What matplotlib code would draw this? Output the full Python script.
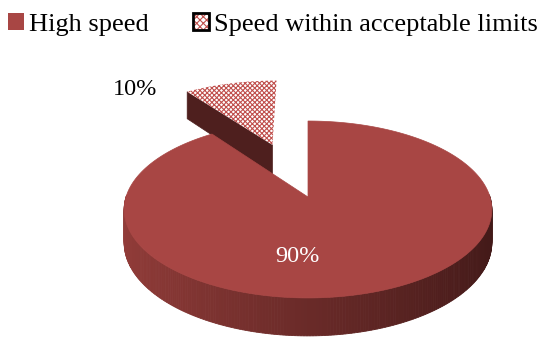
import numpy as np
import matplotlib.pyplot as plt
from matplotlib.patches import Polygon, Patch
from matplotlib.legend_handler import HandlerTuple

# Data
labels = ['High speed', 'Speed within acceptable limits']
values = [90, 10]
explode = [0.0, 0.69]

# label placement (angle in degrees, radius) relative to each slice tip
label_pos = [(-95, 0.63), (138, 1.26)]
label_colors = ['white', 'black']

top_colors = ['#A84644', 'white']
hatches = [None, 'xxxxxxx']
hatch_col = '#C0504D'
face_dark = '#4E1F1E'

plt.rcParams['font.family'] = ['Liberation Serif', 'DejaVu Serif']
plt.rcParams['hatch.linewidth'] = 0.8

fig = plt.figure(figsize=(5.5, 3.38), dpi=100)
ax = fig.add_axes([0, 0, 1, 1])
ax.set_xlim(0, 550)
ax.set_ylim(338, 0)
ax.axis('off')

# projection of the pie disc (u, v in radius units, h height: 0 top, -1 bottom)
cx, cy = 308, 197
R, A, H, persp = 182, 86.7, 32.6, 0.141


def proj(u, v, h=0.0):
    u = np.asarray(u, float)
    v = np.asarray(v, float)
    k = 1.0 / (1.0 + persp * v)
    return cx + R * u * k, cy - (A * v + H * h) * k


def wall_color(c):
    # c = cos(angle), left lighter, right darker
    left = np.array([146, 60, 57]) / 255
    right = np.array([66, 25, 24]) / 255
    f = (c + 1) / 2
    return left * (1 - f) + right * f


total = float(sum(values))
starts = []
a = 90.0
for val in values:
    starts.append((a, a - val / total * 360))
    a -= val / total * 360

# draw slices further back first
order = []
for i, (a0, a1) in enumerate(starts):
    mid = np.radians((a0 + a1) / 2)
    order.append((explode[i] * np.sin(mid), i))
order.sort(reverse=True)

for _, i in order:
    a0, a1 = starts[i]
    mid = np.radians((a0 + a1) / 2)
    du, dv = explode[i] * np.cos(mid), explode[i] * np.sin(mid)

    # radial cut faces that face the viewer
    for ang, nrm in ((a0, a0 + 90), (a1, a1 - 90)):
        if np.sin(np.radians(nrm)) < -0.05:
            t = np.radians(ang)
            pts = [proj(du, dv, 0), proj(du + np.cos(t), dv + np.sin(t), 0),
                   proj(du + np.cos(t), dv + np.sin(t), -1), proj(du, dv, -1)]
            ax.add_patch(Polygon(pts, closed=True, facecolor=face_dark,
                                 edgecolor=face_dark, lw=0.5))

    # outer wall, front part only, drawn in thin strips for shading
    ts = np.linspace(np.radians(a0), np.radians(a1), 400)
    for j in range(len(ts) - 1):
        tm = (ts[j] + ts[j + 1]) / 2
        if np.sin(tm) >= 0.02:
            continue
        t2 = ts[j:j + 2]
        xt, yt = proj(du + np.cos(t2), dv + np.sin(t2), 0)
        xb, yb = proj(du + np.cos(t2), dv + np.sin(t2), -1)
        pts = list(zip(xt, yt)) + list(zip(xb[::-1], yb[::-1]))
        col = wall_color(np.cos(tm))
        ax.add_patch(Polygon(pts, closed=True, facecolor=col, edgecolor=col, lw=0.6))

    # top face
    xs, ys = proj(du + np.cos(ts), dv + np.sin(ts), 0)
    tip = proj(du, dv, 0)
    pts = [tip] + list(zip(xs, ys))
    if hatches[i]:
        ax.add_patch(Polygon(pts, closed=True, facecolor='white',
                             edgecolor=hatch_col, hatch=hatches[i], lw=0))
    else:
        ax.add_patch(Polygon(pts, closed=True, facecolor=top_colors[i],
                             edgecolor=top_colors[i], lw=0.5))

    # percentage label
    la, lr = label_pos[i]
    lx, ly = proj(du + lr * np.cos(np.radians(la)), dv + lr * np.sin(np.radians(la)), 0)
    ax.text(lx, ly, '%d%%' % round(values[i] / total * 100), color=label_colors[i],
            fontsize=17.5, ha='center', va='center')

# legend
h1 = Patch(facecolor=top_colors[0], edgecolor='none')
h2a = Patch(facecolor='white', edgecolor=hatch_col, hatch='xxxxx', lw=0)
h2b = Patch(facecolor='none', edgecolor='black', lw=2)
fig.legend([h1, (h2a, h2b)], labels, loc='upper left', bbox_to_anchor=(-0.021, 1.02),
           ncol=2, frameon=False, fontsize=19, handlelength=0.6, handleheight=0.6,
           handletextpad=0.2, columnspacing=1.67, borderpad=0.25,
           handler_map={tuple: HandlerTuple(ndivide=1)})

fig.savefig('out.png', dpi=100)
